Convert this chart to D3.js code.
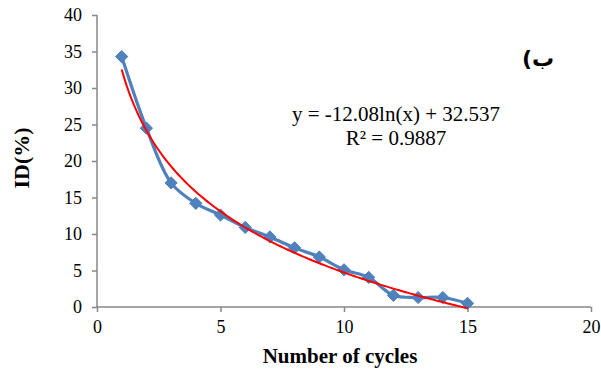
<!DOCTYPE html>
<html>
<head>
<meta charset="utf-8">
<script src="https://d3js.org/d3.v7.min.js"></script>
<style>
  body { margin: 0; background: #fff; }
  text { font-family: "Liberation Serif", "Times New Roman", serif; }
</style>
</head>
<body>
<div id="chart"></div>
<script>
  // data
  const cycles = [1, 2, 3, 4, 5, 6, 7, 8, 9, 10, 11, 12, 13, 14, 15];
  const idPercent = [34.3, 24.5, 17.0, 14.2, 12.6, 10.9, 9.6, 8.1, 6.85, 5.1, 4.05, 1.6, 1.3, 1.3, 0.5];
  const xTicks = [0, 5, 10, 15, 20];
  const yTicks = [0, 5, 10, 15, 20, 25, 30, 35, 40];
  // log trendline coefficients as printed on the chart
  const trendA = -12.08, trendB = 32.537;
  const trendText = ["y = -12.08ln(x) + 32.537", "R² = 0.9887"];

  const width = 601, height = 373;
  const margin = {left: 97, right: 10, top: 15, bottom: 66};
  const serif = "'Liberation Serif', 'Times New Roman', serif";

  const svg = d3.select("#chart").append("svg")
    .attr("width", width)
    .attr("height", height);

  const x = d3.scaleLinear().domain([0, 20]).range([margin.left, width - margin.right]);
  const y = d3.scaleLinear().domain([0, 40]).range([height - margin.bottom, margin.top]);

  const axisColor = "#878787";

  const xAxis = svg.append("g")
    .attr("transform", `translate(0,${y(0)})`)
    .call(d3.axisBottom(x).tickValues(xTicks).tickSize(5).tickPadding(8));
  const yAxis = svg.append("g")
    .attr("transform", `translate(${x(0)},0)`)
    .call(d3.axisLeft(y).tickValues(yTicks).tickSize(5).tickPadding(10));

  [xAxis, yAxis].forEach(a => {
    a.select(".domain").attr("stroke", axisColor).attr("stroke-width", 1.5);
    a.selectAll(".tick line").attr("stroke", axisColor).attr("stroke-width", 1.5);
    a.selectAll(".tick text")
      .attr("fill", "#000")
      .style("font-family", serif)
      .style("font-size", "18px");
  });
  // plain domain lines, no outer stubs
  xAxis.select(".domain").attr("d", `M${x(0)},0H${x(20)}`);
  yAxis.select(".domain").attr("d", `M0,${y(0)}V${y(40)}`);

  const pts = cycles.map((c, i) => [c, idPercent[i]]);

  // smoothed data line
  const line = d3.line()
    .x(d => x(d[0]))
    .y(d => y(d[1]))
    .curve(d3.curveCatmullRom.alpha(0.5));

  svg.append("path")
    .datum(pts)
    .attr("d", line)
    .attr("fill", "none")
    .attr("stroke", "#4F81BD")
    .attr("stroke-width", 3.2);

  // diamond markers
  const diamond = d3.symbol().type(d3.symbolDiamond2).size(95);
  svg.append("g")
    .selectAll("path")
    .data(pts)
    .join("path")
    .attr("transform", d => `translate(${x(d[0])},${y(d[1])})`)
    .attr("d", diamond)
    .attr("fill", "#4F81BD")
    .attr("stroke", "#4A7EBB")
    .attr("stroke-width", 1);

  // logarithmic trendline
  const trendPts = d3.range(1, 15.001, 0.1).map(v => [v, trendA * Math.log(v) + trendB]);
  svg.append("path")
    .datum(trendPts)
    .attr("d", d3.line().x(d => x(d[0])).y(d => y(d[1])))
    .attr("fill", "none")
    .attr("stroke", "#FF0000")
    .attr("stroke-width", 2);

  svg.append("text")
    .attr("x", 396)
    .attr("y", 121)
    .attr("text-anchor", "middle")
    .style("font-family", serif)
    .style("font-size", "21px")
    .text(trendText[0]);
  svg.append("text")
    .attr("x", 396)
    .attr("y", 145)
    .attr("text-anchor", "middle")
    .style("font-family", serif)
    .style("font-size", "21px")
    .text(trendText[1]);

  svg.append("text")
    .attr("x", 538)
    .attr("y", 66)
    .attr("text-anchor", "middle")
    .style("direction", "rtl")
    .style("font-family", "'DejaVu Sans', sans-serif")
    .style("font-weight", "bold")
    .style("font-size", "22px")
    .text("ب)");

  // axis titles
  svg.append("text")
    .attr("x", 340)
    .attr("y", 363)
    .attr("text-anchor", "middle")
    .style("font-family", serif)
    .style("font-weight", "bold")
    .style("font-size", "21px")
    .text("Number of cycles");

  svg.append("text")
    .attr("transform", "translate(29,158) rotate(-90)")
    .attr("text-anchor", "middle")
    .style("font-family", serif)
    .style("font-weight", "bold")
    .style("font-size", "22px")
    .text("ID(%)");
</script>
</body>
</html>
